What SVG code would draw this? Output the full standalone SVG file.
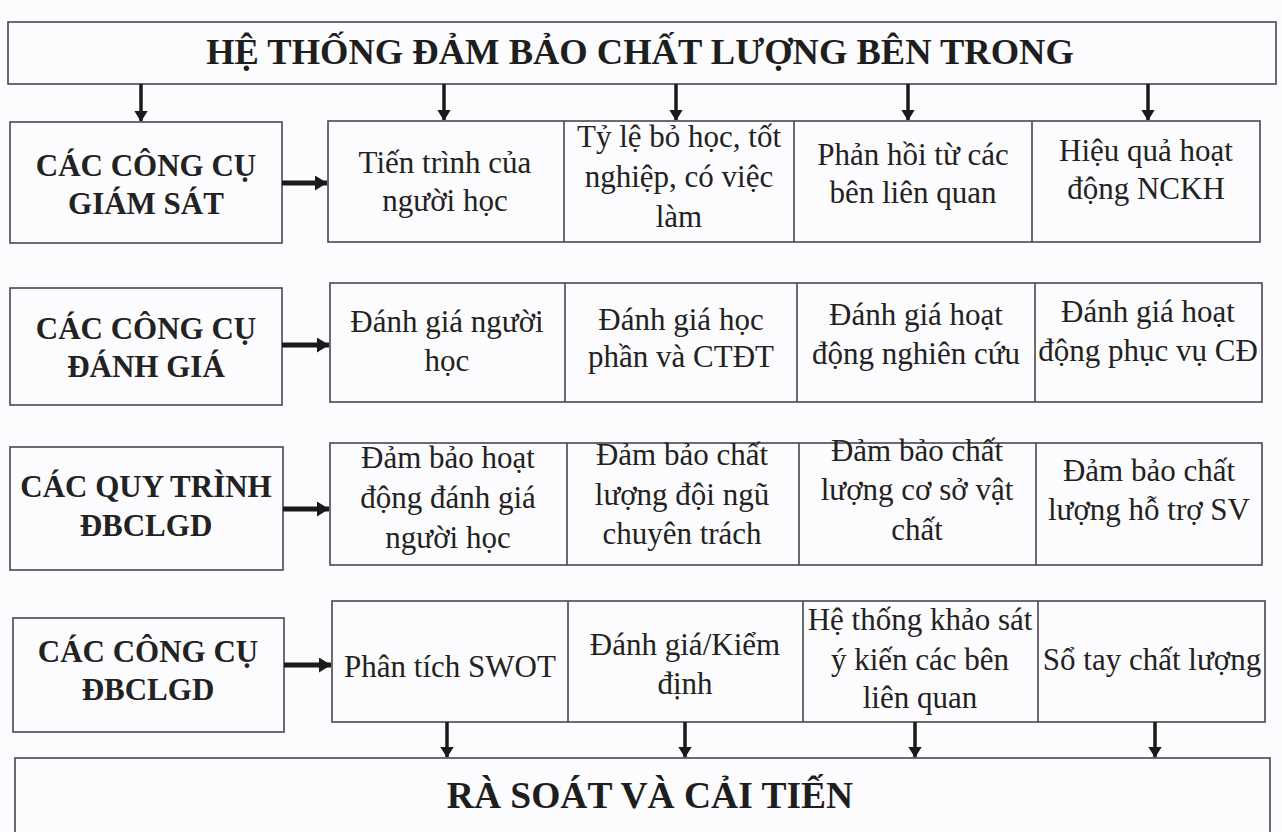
<svg xmlns="http://www.w3.org/2000/svg" width="1282" height="832" viewBox="0 0 1282 832">
<style>
.box{fill:none;stroke:#4a4650;stroke-width:1.6}
.t{font-family:"Liberation Serif","Times New Roman",serif;font-size:31px;fill:#222;text-anchor:middle}
.b{font-family:"Liberation Serif","Times New Roman",serif;font-size:31px;font-weight:bold;fill:#222;text-anchor:middle}
.h{font-family:"Liberation Serif","Times New Roman",serif;font-size:36.5px;font-weight:bold;fill:#1e1e1e;text-anchor:middle}
.v{stroke:#1a1a1a;stroke-width:3.5;fill:none;marker-end:url(#ah)}
.hz{stroke:#1a1a1a;stroke-width:5;fill:none;marker-end:url(#ahh)}
</style>
<defs>
<marker id="ah" markerWidth="4" markerHeight="4" refX="3" refY="2" orient="auto" markerUnits="strokeWidth"><path d="M0,0 L3.2,2 L0,4 Z" fill="#1a1a1a"/></marker>
<marker id="ahh" markerWidth="3" markerHeight="3" refX="2.4" refY="1.5" orient="auto" markerUnits="strokeWidth"><path d="M0,0 L2.4,1.5 L0,3 Z" fill="#1a1a1a"/></marker>
</defs>
<rect width="1282" height="832" fill="#fcfbfd"/>

<g id="top">
<rect class="box" x="8" y="22" width="1268" height="62"/>
<text class="h" x="640" y="64">HỆ THỐNG ĐẢM BẢO CHẤT LƯỢNG BÊN TRONG</text>
</g>

<g id="row1-label">
<rect class="box" x="10" y="122" width="272" height="121"/>
<text class="b" x="146" y="176">CÁC CÔNG CỤ</text>
<text class="b" x="146" y="214">GIÁM SÁT</text>
</g>
<g id="row1-table">
<rect class="box" x="328" y="121" width="932" height="121"/>
<line class="box" x1="564" y1="121" x2="564" y2="242"/>
<line class="box" x1="794" y1="121" x2="794" y2="242"/>
<line class="box" x1="1032" y1="121" x2="1032" y2="242"/>
<text class="t" x="445" y="173">Tiến trình của</text>
<text class="t" x="445" y="211">người học</text>
<text class="t" x="679" y="147">Tỷ lệ bỏ học, tốt</text>
<text class="t" x="679" y="187">nghiệp, có việc</text>
<text class="t" x="679" y="227">làm</text>
<text class="t" x="913" y="165">Phản hồi từ các</text>
<text class="t" x="913" y="203">bên liên quan</text>
<text class="t" x="1146" y="161">Hiệu quả hoạt</text>
<text class="t" x="1146" y="199">động NCKH</text>
</g>

<g id="row2-label">
<rect class="box" x="10" y="288" width="272" height="117"/>
<text class="b" x="146" y="339">CÁC CÔNG CỤ</text>
<text class="b" x="146" y="377">ĐÁNH GIÁ</text>
</g>
<g id="row2-table">
<rect class="box" x="330" y="283" width="932" height="119"/>
<line class="box" x1="565" y1="283" x2="565" y2="402"/>
<line class="box" x1="797" y1="283" x2="797" y2="402"/>
<line class="box" x1="1035" y1="283" x2="1035" y2="402"/>
<text class="t" x="447" y="332">Đánh giá người</text>
<text class="t" x="447" y="371">học</text>
<text class="t" x="681" y="330">Đánh giá học</text>
<text class="t" x="681" y="367">phần và CTĐT</text>
<text class="t" x="916" y="325">Đánh giá hoạt</text>
<text class="t" x="916" y="364">động nghiên cứu</text>
<text class="t" x="1148" y="322">Đánh giá hoạt</text>
<text class="t" x="1148" y="361">động phục vụ CĐ</text>
</g>

<g id="row3-label">
<rect class="box" x="10" y="447" width="273" height="123"/>
<text class="b" x="146" y="497">CÁC QUY TRÌNH</text>
<text class="b" x="146" y="536">ĐBCLGD</text>
</g>
<g id="row3-table">
<rect class="box" x="330" y="443" width="932" height="122"/>
<line class="box" x1="567" y1="443" x2="567" y2="565"/>
<line class="box" x1="799" y1="443" x2="799" y2="565"/>
<line class="box" x1="1036" y1="443" x2="1036" y2="565"/>
<text class="t" x="448" y="468">Đảm bảo hoạt</text>
<text class="t" x="448" y="508">động đánh giá</text>
<text class="t" x="448" y="548">người học</text>
<text class="t" x="682" y="465">Đảm bảo chất</text>
<text class="t" x="682" y="505">lượng đội ngũ</text>
<text class="t" x="682" y="544">chuyên trách</text>
<text class="t" x="917" y="461">Đảm bảo chất</text>
<text class="t" x="917" y="500">lượng cơ sở vật</text>
<text class="t" x="917" y="540">chất</text>
<text class="t" x="1149" y="481">Đảm bảo chất</text>
<text class="t" x="1149" y="520">lượng hỗ trợ SV</text>
</g>

<g id="row4-label">
<rect class="box" x="13" y="618" width="271" height="114"/>
<text class="b" x="148" y="662">CÁC CÔNG CỤ</text>
<text class="b" x="148" y="700">ĐBCLGD</text>
</g>
<g id="row4-table">
<rect class="box" x="332" y="601" width="933" height="121"/>
<line class="box" x1="568" y1="601" x2="568" y2="722"/>
<line class="box" x1="803" y1="601" x2="803" y2="722"/>
<line class="box" x1="1038" y1="601" x2="1038" y2="722"/>
<text class="t" x="450" y="677">Phân tích SWOT</text>
<text class="t" x="685" y="655">Đánh giá/Kiểm</text>
<text class="t" x="685" y="694">định</text>
<text class="t" x="920" y="630">Hệ thống khảo sát</text>
<text class="t" x="920" y="670">ý kiến các bên</text>
<text class="t" x="920" y="708">liên quan</text>
<text class="t" x="1152" y="670">Sổ tay chất lượng</text>
</g>

<g id="bottom">
<rect class="box" x="15" y="758" width="1255" height="80"/>
<text class="h" x="650" y="808" style="font-size:37.5px">RÀ SOÁT VÀ CẢI TIẾN</text>
</g>

<g id="connectors">
<line class="v" x1="141" y1="84" x2="141" y2="121"/>
<line class="v" x1="444" y1="84" x2="444" y2="120"/>
<line class="v" x1="676" y1="84" x2="676" y2="120"/>
<line class="v" x1="908" y1="84" x2="908" y2="120"/>
<line class="v" x1="1148" y1="84" x2="1148" y2="120"/>
<line class="hz" x1="282" y1="183" x2="327" y2="183"/>
<line class="hz" x1="282" y1="345" x2="329" y2="345"/>
<line class="hz" x1="283" y1="509" x2="329" y2="509"/>
<line class="hz" x1="284" y1="665" x2="331" y2="665"/>
<line class="v" x1="447" y1="722" x2="447" y2="757"/>
<line class="v" x1="685" y1="722" x2="685" y2="757"/>
<line class="v" x1="915" y1="722" x2="915" y2="757"/>
<line class="v" x1="1155" y1="722" x2="1155" y2="757"/>
</g>
</svg>
